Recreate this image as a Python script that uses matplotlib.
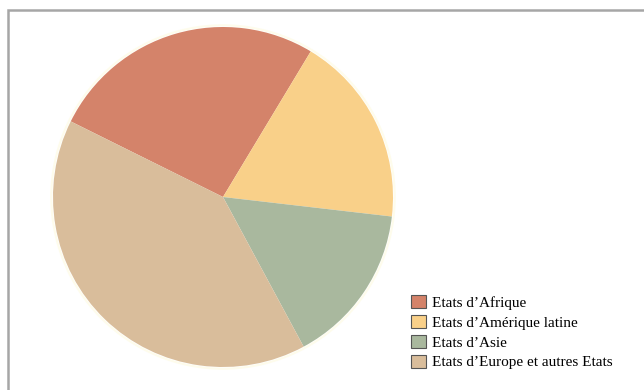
import matplotlib.pyplot as plt
from matplotlib.patches import Patch, Rectangle, Circle

labels = [
    "Etats d\u2019Afrique",
    "Etats d\u2019Am\u00e9rique latine",
    "Etats d\u2019Asie",
    "Etats d\u2019Europe et autres Etats",
]
shares = [26.3, 18.2, 15.3, 40.2]
colors = ["#D4836A", "#F9D089", "#A9B89E", "#D9BD9B"]

plt.rcParams["font.family"] = ["Liberation Serif", "DejaVu Serif"]

W, H = 644, 390
fig = plt.figure(figsize=(W / 100, H / 100), dpi=100)

# grey frame around the chart area
fig.add_artist(Rectangle((7.5 / W, -0.05), 1.1, (H - 9.5) / H + 0.05,
                         transform=fig.transFigure, fill=False,
                         edgecolor="#a6a6a6", linewidth=1.8))

cx, cy, r = 223, 197, 170 * 1.02
ax = fig.add_axes([(cx - r) / W, (H - cy - r) / H, 2 * r / W, 2 * r / H])
ax.add_patch(Circle((0, 0), 1.01, facecolor="none", edgecolor="#fefcec", linewidth=1.5))
ax.pie(shares, colors=colors, startangle=153.6, counterclock=False,
       wedgeprops=dict(linewidth=0))
ax.set_xlim(-1.02, 1.02)
ax.set_ylim(-1.02, 1.02)
ax.set_aspect("auto")
ax.axis("off")

handles = [Patch(facecolor=c, edgecolor="#555555", linewidth=0.8) for c in colors]
fig.legend(handles, labels, loc="upper left",
           bbox_to_anchor=(411 / W, 1 - 295 / H), frameon=False,
           fontsize=11, handlelength=1.0, handleheight=0.95,
           handletextpad=0.35, labelspacing=0.33, borderaxespad=0,
           borderpad=0)

fig.savefig("out.png", dpi=100)
